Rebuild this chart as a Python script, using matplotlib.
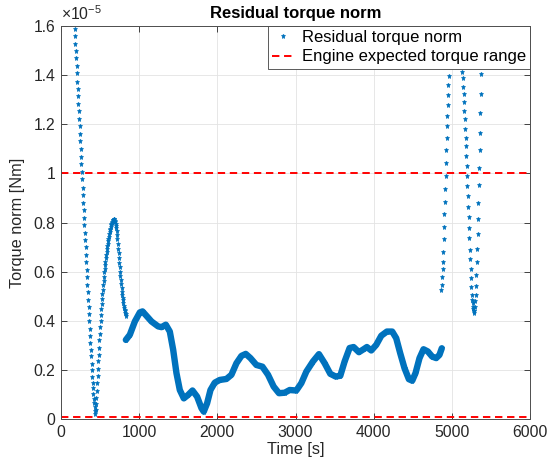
import numpy as np
import matplotlib.pyplot as plt
from matplotlib.ticker import FuncFormatter

plt.rcParams['font.family'] = ['Liberation Sans', 'DejaVu Sans']
plt.rcParams['mathtext.fontset'] = 'custom'
plt.rcParams['mathtext.rm'] = 'Liberation Sans'

# residual torque norm, values in units of 1e-5 Nm
# first burst, sampled every 4.8 s from t = 175 s
seg1_t0 = 175.0
seg1_dt = 4.8
seg1_v = [1.588, 1.558, 1.527, 1.497, 1.468, 1.437, 1.407, 1.374, 1.343, 1.313,
          1.282, 1.252, 1.220, 1.191, 1.162, 1.131, 1.098, 1.068, 1.037, 1.007,
          0.976, 0.942, 0.912, 0.880, 0.850, 0.819,
          0.789, 0.758, 0.728, 0.699, 0.669, 0.640, 0.608, 0.578, 0.547, 0.517,
          0.486, 0.456, 0.427, 0.397, 0.367, 0.339, 0.311, 0.282, 0.255, 0.225,
          0.200, 0.173, 0.146, 0.125, 0.102, 0.082, 0.064, 0.048, 0.033, 0.020,
          0.035, 0.060, 0.085, 0.115, 0.145, 0.175, 0.205, 0.235, 0.262, 0.290,
          0.320, 0.348, 0.376, 0.400, 0.425, 0.447, 0.468, 0.488, 0.508, 0.527,
          0.545, 0.563, 0.580, 0.597, 0.612, 0.627, 0.641, 0.655, 0.668, 0.680,
          0.692, 0.703, 0.714, 0.724, 0.734, 0.743, 0.752, 0.760, 0.768, 0.775,
          0.782, 0.788, 0.794, 0.799, 0.803, 0.807, 0.810, 0.812, 0.813,
          0.814, 0.812, 0.808, 0.802, 0.795, 0.787, 0.777, 0.764, 0.748, 0.731,
          0.713, 0.694, 0.675, 0.656, 0.637, 0.618, 0.599, 0.581, 0.564, 0.548,
          0.533, 0.519, 0.506, 0.494, 0.483, 0.472, 0.462, 0.453, 0.445, 0.438,
          0.432, 0.426, 0.421]

# long steady part (dense samples, read at knots)
seg2_t = [830, 881, 945, 1009, 1043, 1094, 1158, 1243, 1286, 1341,
          1392, 1435, 1477, 1520, 1571, 1626, 1682, 1741, 1797, 1826,
          1869, 1912, 1967, 2031, 2116, 2180, 2244, 2308, 2363, 2423,
          2499, 2576, 2648, 2720, 2788, 2861, 2925, 3010, 3074, 3138,
          3222, 3299, 3372, 3444, 3512, 3572, 3627, 3691, 3742, 3810,
          3870, 3912, 3968, 4032, 4096, 4168, 4236, 4287, 4338, 4393,
          4449, 4492, 4534, 4585, 4636, 4691, 4747, 4798, 4840, 4870]
seg2_v = [0.322, 0.343, 0.397, 0.434, 0.438, 0.420, 0.397, 0.377, 0.374, 0.384,
          0.356, 0.282, 0.187, 0.118, 0.084, 0.098, 0.116, 0.091, 0.044, 0.030,
          0.064, 0.118, 0.148, 0.159, 0.163, 0.180, 0.227, 0.257, 0.265, 0.248,
          0.220, 0.213, 0.180, 0.132, 0.105, 0.107, 0.118, 0.116, 0.146, 0.193,
          0.234, 0.264, 0.227, 0.184, 0.173, 0.176, 0.234, 0.289, 0.293, 0.272,
          0.284, 0.293, 0.279, 0.302, 0.339, 0.356, 0.356, 0.329, 0.268, 0.207,
          0.162, 0.156, 0.187, 0.248, 0.284, 0.275, 0.254, 0.248, 0.261, 0.288]

# end bursts
seg3_t0 = 4866.0
seg3_dt = 4.7
seg3_v = [0.524, 0.547, 0.578, 0.611, 0.641, 0.680, 0.731, 0.782, 0.833, 0.883,
          0.935, 0.989, 1.041, 1.094, 1.143, 1.191, 1.234, 1.278, 1.318, 1.359,
          1.397, 1.440, 1.480, 1.520, 1.560, 1.600, 1.640]

seg4_t0 = 5118.0
seg4_dt = 5.0
seg4_v = [1.520, 1.485, 1.448, 1.411, 1.387, 1.350, 1.322, 1.289, 1.254, 1.220,
          1.182, 1.146, 1.112, 1.071, 1.030, 0.990, 0.948, 0.907, 0.864, 0.822,
          0.778, 0.735, 0.690, 0.652, 0.611, 0.574, 0.538, 0.506, 0.486, 0.472,
          0.458, 0.448, 0.438, 0.431,
          0.441, 0.458, 0.479, 0.506, 0.543, 0.588, 0.638, 0.693, 0.754, 0.815,
          0.880, 0.951, 1.020, 1.094, 1.166, 1.244, 1.322, 1.404, 1.490, 1.580]

range_levels = [1.0, 0.01]

xticks = [0, 1000, 2000, 3000, 4000, 5000, 6000]
yticks = [0, 0.2, 0.4, 0.6, 0.8, 1.0, 1.2, 1.4, 1.6]

blue = '#0072BD'
dark = '#262626'

fig = plt.figure(figsize=(5.54, 4.72), dpi=100)
ax = fig.add_axes([0.110, 0.1123, 0.847, 0.8326])

bursts = [(seg1_t0, seg1_dt, seg1_v), (seg3_t0, seg3_dt, seg3_v), (seg4_t0, seg4_dt, seg4_v)]
for i, (t0, dt, v) in enumerate(bursts):
    t = t0 + dt*np.arange(len(v))
    ax.plot(t, v, linestyle='none', marker='*', ms=3.6, mew=0.5,
            color=blue, label='Residual torque norm' if i == 0 else None, zorder=3)

ax.plot(seg2_t, seg2_v, color=blue, lw=4.6, solid_capstyle='round',
        solid_joinstyle='round', zorder=3)
ax.plot(seg2_t, seg2_v, linestyle='none', marker='*', ms=3.6, mew=0.5,
        color=blue, zorder=3)

for i, lv in enumerate(range_levels):
    ax.axhline(lv, color='red', lw=1.4, dashes=(3.8, 2.4),
               label='Engine expected torque range' if i == 0 else None, zorder=2)

ax.set_xlim(0, 6000)
ax.set_ylim(0, 1.6)
ax.set_xticks(xticks)
ax.set_yticks(yticks)
ax.yaxis.set_major_formatter(FuncFormatter(lambda y, p: '%g' % round(y, 2)))
ax.tick_params(direction='in', top=True, right=True, length=4, width=0.6,
               colors=dark, labelsize=11.3, pad=4)
for s in ax.spines.values():
    s.set_color('#4d4d4d')
    s.set_linewidth(0.7)
ax.grid(True, color='#e3e3e3', lw=0.6)
ax.set_axisbelow(True)

ax.set_xlabel('Time [s]', fontsize=11.7, color=dark, labelpad=2)
ax.set_ylabel('Torque norm [Nm]', fontsize=11.7, color=dark, labelpad=6)
ax.set_title('Residual torque norm', fontsize=12, fontweight='bold', color='black', pad=6)
ax.text(0.0, 1.008, r'$\times\mathregular{10^{-5}}$', transform=ax.transAxes,
        ha='left', va='bottom', fontsize=11.3, color=dark)

leg = ax.legend(loc='upper right', bbox_to_anchor=(1.0, 1.0), borderaxespad=0,
                fontsize=12, numpoints=1, handlelength=1.3, handletextpad=0.5,
                labelspacing=0.25, borderpad=0.25, fancybox=False, framealpha=1,
                edgecolor='#404040')
leg.get_frame().set_linewidth(0.6)
leg.set_zorder(5)

fig.savefig('out.png', dpi=100)
